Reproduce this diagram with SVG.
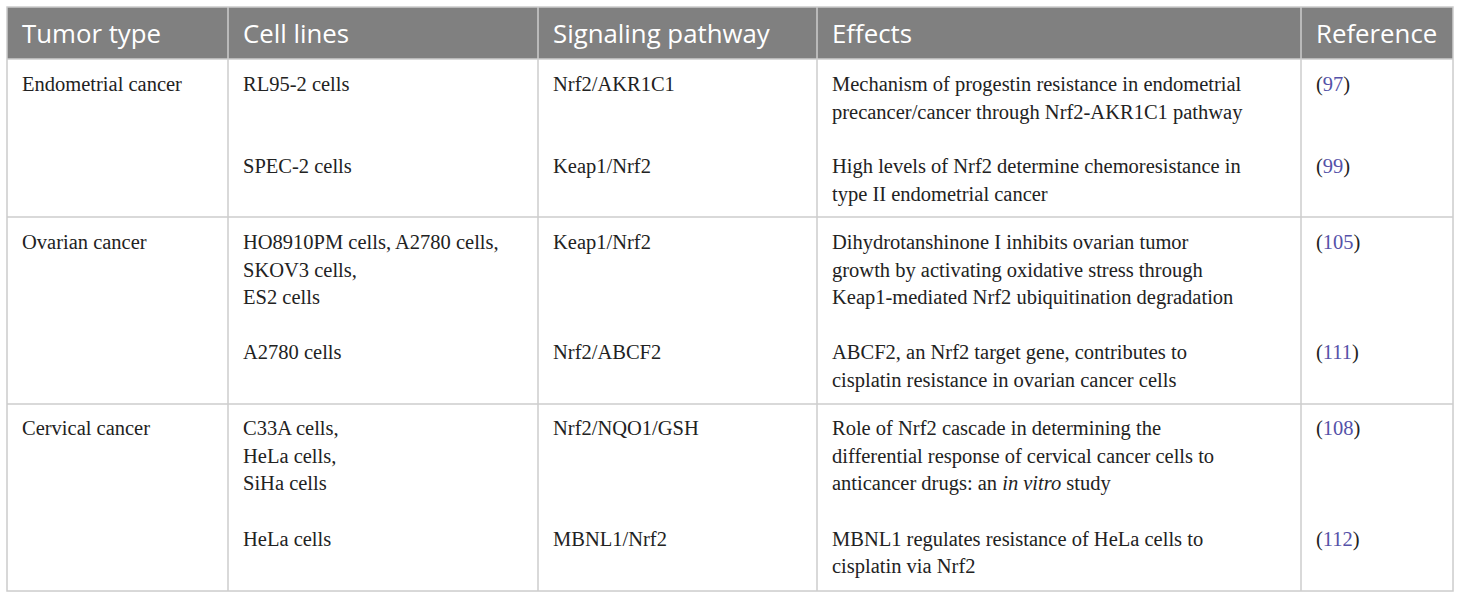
<svg xmlns="http://www.w3.org/2000/svg" width="1460" height="599" viewBox="0 0 1460 599">
<style>
.hd{font-family:"Open Sans","Noto Sans",sans-serif;font-size:25.8px;fill:#ffffff}
.tx{font-family:"Liberation Serif","Times New Roman",serif;font-size:20.5px;fill:#222222}
.rf{fill:#5552a8}
.gl{stroke:#cccccc;stroke-width:1.5;fill:none}
</style>
<rect x="0" y="0" width="1460" height="599" fill="#ffffff"/>
<g id="header">
<rect x="7" y="7" width="1446" height="52" fill="#808080"/>
<text class="hd" x="22" y="43">Tumor type</text>
<text class="hd" x="243" y="43">Cell lines</text>
<text class="hd" x="553" y="43">Signaling pathway</text>
<text class="hd" x="832" y="43">Effects</text>
<text class="hd" x="1316" y="43">Reference</text>
</g>
<g id="grid">
<rect class="gl" x="7" y="7" width="1446" height="584"/>
<line class="gl" x1="7" y1="59" x2="1453" y2="59"/>
<line class="gl" x1="7" y1="217" x2="1453" y2="217"/>
<line class="gl" x1="7" y1="404" x2="1453" y2="404"/>
<line class="gl" x1="228" y1="7" x2="228" y2="591"/>
<line class="gl" x1="538" y1="7" x2="538" y2="591"/>
<line class="gl" x1="817" y1="7" x2="817" y2="591"/>
<line class="gl" x1="1301" y1="7" x2="1301" y2="591"/>
</g>
<g id="row-endometrial" class="tx">
<text x="22" y="91">Endometrial cancer</text>
<text x="243" y="91">RL95-2 cells</text>
<text x="553" y="91">Nrf2/AKR1C1</text>
<text x="832" y="91">Mechanism of progestin resistance in endometrial</text>
<text x="832" y="118.5">precancer/cancer through Nrf2-AKR1C1 pathway</text>
<text x="1316" y="91">(<tspan class="rf">97</tspan>)</text>
<text x="243" y="173">SPEC-2 cells</text>
<text x="553" y="173">Keap1/Nrf2</text>
<text x="832" y="173">High levels of Nrf2 determine chemoresistance in</text>
<text x="832" y="200.5">type II endometrial cancer</text>
<text x="1316" y="173">(<tspan class="rf">99</tspan>)</text>
</g>
<g id="row-ovarian" class="tx">
<text x="22" y="249">Ovarian cancer</text>
<text x="243" y="249">HO8910PM cells, A2780 cells,</text>
<text x="243" y="276.5">SKOV3 cells,</text>
<text x="243" y="304">ES2 cells</text>
<text x="553" y="249">Keap1/Nrf2</text>
<text x="832" y="249">Dihydrotanshinone I inhibits ovarian tumor</text>
<text x="832" y="276.5">growth by activating oxidative stress through</text>
<text x="832" y="304">Keap1-mediated Nrf2 ubiquitination degradation</text>
<text x="1316" y="249">(<tspan class="rf">105</tspan>)</text>
<text x="243" y="359">A2780 cells</text>
<text x="553" y="359">Nrf2/ABCF2</text>
<text x="832" y="359">ABCF2, an Nrf2 target gene, contributes to</text>
<text x="832" y="386.5">cisplatin resistance in ovarian cancer cells</text>
<text x="1316" y="359">(<tspan class="rf">111</tspan>)</text>
</g>
<g id="row-cervical" class="tx">
<text x="22" y="435">Cervical cancer</text>
<text x="243" y="435">C33A cells,</text>
<text x="243" y="462.5">HeLa cells,</text>
<text x="243" y="490">SiHa cells</text>
<text x="553" y="435">Nrf2/NQO1/GSH</text>
<text x="832" y="435">Role of Nrf2 cascade in determining the</text>
<text x="832" y="462.5">differential response of cervical cancer cells to</text>
<text x="832" y="490">anticancer drugs: an <tspan font-style="italic">in vitro</tspan> study</text>
<text x="1316" y="435">(<tspan class="rf">108</tspan>)</text>
<text x="243" y="545.5">HeLa cells</text>
<text x="553" y="545.5">MBNL1/Nrf2</text>
<text x="832" y="545.5">MBNL1 regulates resistance of HeLa cells to</text>
<text x="832" y="573">cisplatin via Nrf2</text>
<text x="1316" y="545.5">(<tspan class="rf">112</tspan>)</text>
</g>
</svg>
